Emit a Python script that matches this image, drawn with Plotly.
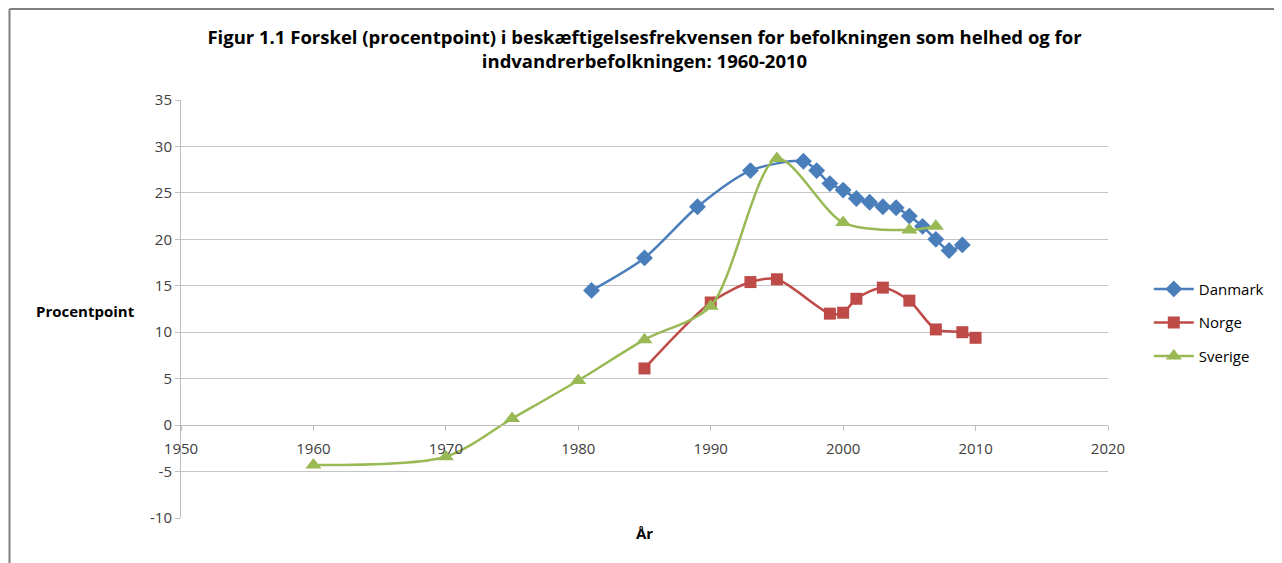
import plotly.graph_objects as go

dk_years = [1981, 1985, 1989, 1993, 1997, 1998, 1999, 2000, 2001, 2002, 2003, 2004, 2005, 2006, 2007, 2008, 2009]
dk_values = [14.5, 18.0, 23.5, 27.4, 28.4, 27.4, 26.0, 25.3, 24.4, 24.0, 23.5, 23.4, 22.5, 21.4, 20.0, 18.8, 19.4]

no_years = [1985, 1990, 1993, 1995, 1999, 2000, 2001, 2003, 2005, 2007, 2009, 2010]
no_values = [6.1, 13.2, 15.4, 15.7, 12.0, 12.1, 13.6, 14.8, 13.4, 10.3, 10.0, 9.4]

se_years = [1960, 1970, 1975, 1980, 1985, 1990, 1995, 2000, 2005, 2007]
se_values = [-4.3, -3.4, 0.7, 4.8, 9.2, 12.8, 28.7, 21.8, 21.0, 21.4]

x_ticks = [1950, 1960, 1970, 1980, 1990, 2000, 2010, 2020]
y_ticks = [-10, -5, 0, 5, 10, 15, 20, 25, 30, 35]
y_labels = ["-10", "-5", "0", "5", "10", "15", "20", "25", "30", "35"]

FONT = "Open Sans"

fig = go.Figure()
series = [
    ("Danmark", dk_years, dk_values, "#4A7EBB", "diamond", 13),
    ("Norge", no_years, no_values, "#BE4B48", "square", 12),
    ("Sverige", se_years, se_values, "#98B954", "triangle-up", 14),
]
for name, xs, ys, col, sym, sz in series:
    fig.add_trace(go.Scatter(
        x=xs, y=ys, name=name, mode="lines+markers",
        line=dict(color=col, width=2.5, shape="spline", smoothing=0.8),
        marker=dict(symbol=sym, size=sz, color=col),
        legendgroup=name,
    ))

fig.update_layout(
    width=1282, height=563,
    margin=dict(l=173, r=182, t=92, b=53),
    plot_bgcolor="white", paper_bgcolor="white",
    font=dict(family=FONT, size=15, color="#404040"),
    title=dict(
        text="Figur 1.1 Forskel (procentpoint) i beskæftigelsesfrekvensen for befolkningen som helhed og for<br>indvandrerbefolkningen: 1960-2010",
        x=0.5, xref="paper", xanchor="center", y=0.936, yanchor="middle",
        font=dict(family=FONT, size=18.5, color="#000000", weight="bold"),
    ),
    xaxis=dict(
        range=[1950, 2020], tickvals=x_ticks, showgrid=False,
        anchor="free", position=10 / 45,
        showline=True, linecolor="#BFBFBF", linewidth=1,
        ticks="outside", ticklen=5, tickcolor="#BFBFBF", ticklabelstandoff=5,
        tickfont=dict(size=15, color="#404040"), zeroline=False,
    ),
    yaxis=dict(
        range=[-10, 35], tickvals=y_ticks, ticktext=y_labels, showgrid=True,
        gridcolor="#C4C4C4", gridwidth=1,
        showline=True, linecolor="#BFBFBF", linewidth=1,
        ticks="outside", ticklen=5, tickcolor="#BFBFBF",
        tickfont=dict(size=15, color="#404040"), zeroline=False,
    ),
    legend=dict(
        x=1.044, y=0.587, xanchor="left", yanchor="top",
        font=dict(size=15, color="#000000"), tracegroupgap=11,
        itemwidth=40,
    ),
    annotations=[
        dict(text="<b>Procentpoint</b>", x=-0.103, y=0.495, xref="paper", yref="paper",
             showarrow=False, xanchor="center", yanchor="middle",
             font=dict(size=15, color="#000000")),
        dict(text="<b>År</b>", x=0.5, y=-0.036, xref="paper", yref="paper",
             showarrow=False, xanchor="center", yanchor="middle",
             font=dict(size=15, color="#000000")),
    ],
    shapes=[
        dict(type="line", xref="paper", yref="paper", x0=-0.185, x1=1.2, y0=1.2177, y1=1.2177,
             line=dict(color="#7F7F7F", width=2)),
        dict(type="line", xref="paper", yref="paper", x0=-0.185, x1=-0.185, y0=1.2177, y1=-0.125,
             line=dict(color="#7F7F7F", width=2)),
    ],
)

fig.write_html("out.html")
